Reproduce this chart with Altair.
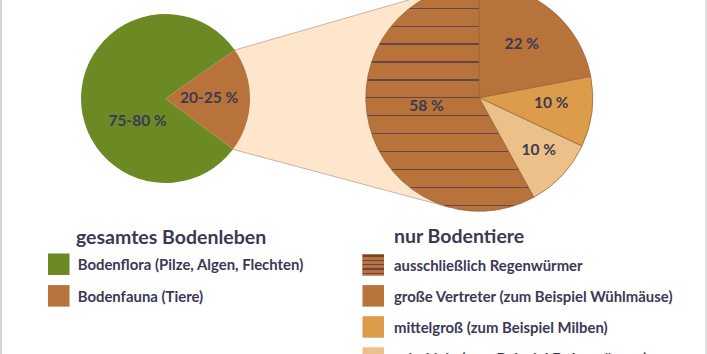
import math
import altair as alt
import pandas as pd

# ---------------- data ----------------
all_life_categories = ["Bodenflora (Pilze, Algen, Flechten)", "Bodenfauna (Tiere)"]
all_life_values = [80, 20]
all_life_labels = ["75-80 %", "20-25 %"]

fauna_categories = [
    "ausschließlich Regenwürmer",
    "große Vertreter (zum Beispiel Wühlmäuse)",
    "mittelgroß (zum Beispiel Milben)",
    "sehr klein (zum Beispiel Fadenwürmer)",
]
fauna_values = [58, 22, 10, 10]
fauna_labels = ["58 %", "22 %", "10 %", "10 %"]

legend_titles = ["gesamtes Bodenleben", "nur Bodentiere"]

# ---------------- styles / layout ----------------
W, H = 707, 354
FONT = "Lato"
GREEN, BROWN, MID, LIGHT = "#6b8a24", "#b8733a", "#dc9c4a", "#ecc189"
CONE, CONE_LINE, HATCH, TEXT = "#fde6cc", "#c7b4a3", "#6a4448", "#3c3854"

CX1, CY1, R1 = 165.5, 98.5, 84.5
CX2, CY2, R2 = 479.3, 97.8, 113.5
ROT_DEG = 55.0  # rotation of the left pie (fauna slice centred on the right)

fauna_draw_order = [3, 0, 1, 2]  # clockwise from 12 o'clock: 22, 10, 10, 58
all_life_draw_order = [1, 0]

color_scale = alt.Scale(
    domain=all_life_categories + fauna_categories,
    range=[GREEN, BROWN, BROWN, BROWN, MID, LIGHT],
)
xs = alt.Scale(domain=[0, W], nice=False, zero=False)
ys = alt.Scale(domain=[0, H], reverse=True, nice=False, zero=False)


def hatch_gradient(n_half, spacing, half_thick):
    stops = [{"offset": 0, "color": BROWN}]
    for k in range(-n_half, n_half + 1):
        o = 0.5 + k * spacing
        stops += [
            {"offset": o - half_thick, "color": BROWN},
            {"offset": o - half_thick, "color": HATCH},
            {"offset": o + half_thick, "color": HATCH},
            {"offset": o + half_thick, "color": BROWN},
        ]
    stops.append({"offset": 1, "color": BROWN})
    return {"gradient": "linear", "x1": 0, "x2": 0, "y1": 0, "y2": 1, "stops": stops}


pie_hatch = hatch_gradient(6, 17.9 / (2 * R2), 0.65 / (2 * R2))
legend_hatch = hatch_gradient(2, 0.2, 0.032)

# ---------------- cone geometry (derived from the pies) ----------------
def on_circle(cx, cy, r, ang_deg):
    a = math.radians(ang_deg)
    return cx + r * math.sin(a), cy - r * math.cos(a)


share = all_life_values[1] / sum(all_life_values)
P1 = on_circle(CX1, CY1, R1, ROT_DEG)
P2 = on_circle(CX1, CY1, R1, ROT_DEG + 360 * share)


def tangent(P, sign):
    dx, dy = P[0] - CX2, P[1] - CY2
    d = math.hypot(dx, dy)
    t = math.atan2(dy, dx) + sign * math.acos(R2 / d)
    return CX2 + R2 * math.cos(t), CY2 + R2 * math.sin(t)


T1 = tangent(P1, +1)
T2 = tangent(P2, -1)


def line_at(A, B, x):
    return A[1] + (B[1] - A[1]) * (x - A[0]) / (B[0] - A[0])


cone_x = [min(P1[0], P2[0]), min(T1[0], T2[0]), max(T1[0], T2[0])]
cone_df = pd.DataFrame({
    "x": cone_x,
    "top": [line_at(P1, T1, x) for x in cone_x],
    "bottom": [line_at(P2, T2, x) for x in cone_x],
})

cone = alt.Chart(cone_df).mark_area(
    fill=CONE, stroke=CONE_LINE, strokeWidth=1, interpolate="linear"
).encode(
    x=alt.X("x:Q", scale=xs, axis=None),
    y=alt.Y("top:Q", scale=ys, axis=None),
    y2="bottom:Q",
)

# ---------------- pies ----------------
left_df = pd.DataFrame({
    "cat": all_life_categories, "value": all_life_values, "ord": all_life_draw_order
})
rot = math.radians(ROT_DEG)
left_pie = alt.Chart(left_df).mark_arc(radius=R1).encode(
    x=alt.value(CX1),
    y=alt.value(CY1),
    theta=alt.Theta("value:Q", stack=True,
                    scale=alt.Scale(domain=[0, 100], range=[rot, rot + 2 * math.pi])),
    color=alt.Color("cat:N", scale=color_scale, legend=None),
    order=alt.Order("ord:Q"),
)

right_df = pd.DataFrame({
    "cat": fauna_categories, "value": fauna_values, "ord": fauna_draw_order
})
right_pie = alt.Chart(right_df).mark_arc(
    radius=R2, stroke="#8e5f3c", strokeWidth=0.7
).encode(
    x=alt.value(CX2),
    y=alt.value(CY2),
    theta=alt.Theta("value:Q", stack=True,
                    scale=alt.Scale(domain=[0, 100], range=[0, 2 * math.pi])),
    color=alt.condition(
        alt.datum.cat == fauna_categories[0],
        alt.value(pie_hatch),
        alt.Color("cat:N", scale=color_scale, legend=None),
    ),
    order=alt.Order("ord:Q"),
)

# ---------------- pie labels ----------------
label_x = [137.5, 209.0, 426.5, 521.8, 551.2, 538.8]
label_y = [121.0, 98.3, 106.3, 43.7, 103.0, 149.7]
labels_df = pd.DataFrame({
    "text": all_life_labels + fauna_labels, "x": label_x, "y": label_y
})
labels = alt.Chart(labels_df).mark_text(
    font=FONT, fontSize=15.5, fontWeight="bold", color=TEXT,
    align="center", baseline="middle"
).encode(
    x=alt.X("x:Q", scale=xs, axis=None),
    y=alt.Y("y:Q", scale=ys, axis=None),
    text="text:N",
)

# ---------------- legends ----------------
SW = 21.5
col_swatch_x = [48.0, 362.5]
col_text_x = [77.7, 394.0]
col_first_top = [253.5, 254.0]
col_step = [31.6, 31.1]
rows = []
for col, cats in enumerate([all_life_categories, fauna_categories]):
    for i, c in enumerate(cats):
        top = col_first_top[col] + i * col_step[col]
        rows.append({
            "cat": c, "x": col_swatch_x[col], "x2": col_swatch_x[col] + SW,
            "y": top, "y2": top + SW, "tx": col_text_x[col], "ty": top + 16.8,
        })
legend_df = pd.DataFrame(rows)

legend_rects = alt.Chart(legend_df).mark_rect().encode(
    x=alt.X("x:Q", scale=xs, axis=None), x2="x2:Q",
    y=alt.Y("y:Q", scale=ys, axis=None), y2="y2:Q",
    color=alt.Color("cat:N", scale=color_scale, legend=None),
)
legend_hatch_rect = alt.Chart(legend_df).transform_filter(
    alt.datum.cat == fauna_categories[0]
).mark_rect(fill=legend_hatch).encode(
    x=alt.X("x:Q", scale=xs, axis=None), x2="x2:Q",
    y=alt.Y("y:Q", scale=ys, axis=None), y2="y2:Q",
)
legend_text = alt.Chart(legend_df).mark_text(
    font=FONT, fontSize=14.9, fontWeight="bold", color=TEXT,
    align="left", baseline="alphabetic"
).encode(
    x=alt.X("tx:Q", scale=xs, axis=None),
    y=alt.Y("ty:Q", scale=ys, axis=None),
    text="cat:N",
)

titles_df = pd.DataFrame({"text": legend_titles, "x": [76.0, 394.0], "y": [244.0, 243.0]})
titles = alt.Chart(titles_df).mark_text(
    font=FONT, fontSize=19.5, fontWeight="bold", color=TEXT,
    align="left", baseline="alphabetic"
).encode(
    x=alt.X("x:Q", scale=xs, axis=None),
    y=alt.Y("y:Q", scale=ys, axis=None),
    text="text:N",
)

# ---------------- frame lines ----------------
border_l = alt.Chart(titles_df).mark_rule(color="#cfcfcf", strokeWidth=1.2).encode(
    x=alt.value(1), y=alt.value(0), y2=alt.value(H)
)
border_r = alt.Chart(titles_df).mark_rule(color="#d6d6d6", strokeWidth=1).encode(
    x=alt.value(706), y=alt.value(0), y2=alt.value(H)
)

chart = alt.layer(
    cone, left_pie, right_pie, labels,
    legend_rects, legend_hatch_rect, legend_text, titles,
    border_l, border_r,
).resolve_scale(
    theta="independent"
).properties(
    width=W, height=H, padding=0,
    autosize=alt.AutoSizeParams(type="none"),
    background="white",
).configure_view(stroke=None)

chart.save("out.html", embed_options={"renderer": "svg", "actions": False})
